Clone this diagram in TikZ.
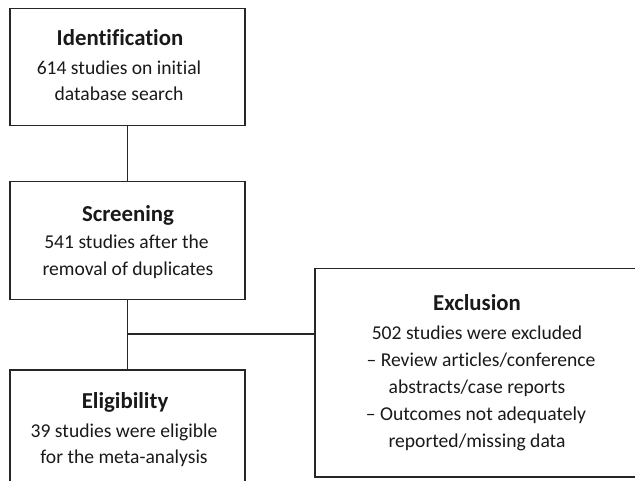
\documentclass[tikz,border=0pt]{standalone}
\usepackage{fontspec}
\setmainfont{Carlito}[Ligatures={NoCommon,NoRare,NoContextual}]
\begin{document}
\begin{tikzpicture}[x=1pt,y=-1pt,
  box/.style={draw=black!85,line width=1.5pt,minimum width=235pt,inner sep=0pt,anchor=north west},
  ttl/.style={font=\fontsize{22.8}{27}\selectfont\bfseries,text=black!90,anchor=base,inner sep=0pt},
  txt/.style={font=\fontsize{19.6}{27}\selectfont,text=black!90,anchor=base,inner sep=0pt},
  link/.style={draw=black!85,line width=1.5pt}]
\useasboundingbox (0,0) rectangle (635,481);
\clip (0,0) rectangle (635,481);
% boxes
\node[box,minimum height=117pt] (ident) at (9,8) {};
\node[box,minimum height=118pt] (screen) at (9,181) {};
\node[box,minimum height=118pt] (elig) at (9,369) {};
\node[box,minimum width=326pt,minimum height=208pt] (excl) at (314,268) {};
% texts
\node[ttl] (t1) at (120,46) {Identification};
\node[txt] (t1a) at (119,75) {614 studies on initial};
\node[txt] (t1b) at (119,101) {database search};
\node[ttl] (t2) at (128,222) {Screening};
\node[txt] (t2a) at (126.5,249) {541 studies after the};
\node[txt] (t2b) at (128,276) {removal of duplicates};
\node[ttl] (t3) at (125,408) {Eligibility};
\node[txt] (t3a) at (124,437) {39 studies were eligible};
\node[txt] (t3b) at (124,463) {for the meta-analysis};
\node[ttl] (t4) at (477,310) {Exclusion};
\node[txt] (t4a) at (477,339) {502 studies were excluded};
\node[txt] (t4b) at (481,366) {– Review articles/conference};
\node[txt] (t4c) at (477,393) {abstracts/case reports};
\node[txt] (t4d) at (476,420) {– Outcomes not adequately};
\node[txt] (t4e) at (477,447) {reported/missing data};
% connectors
\coordinate (j) at (126.5,334);
\draw[link] (ident.south) -- (screen.north);
\draw[link] (screen.south) -- (elig.north);
\draw[link] (j) -- (j -| excl.west);
\end{tikzpicture}
\end{document}
